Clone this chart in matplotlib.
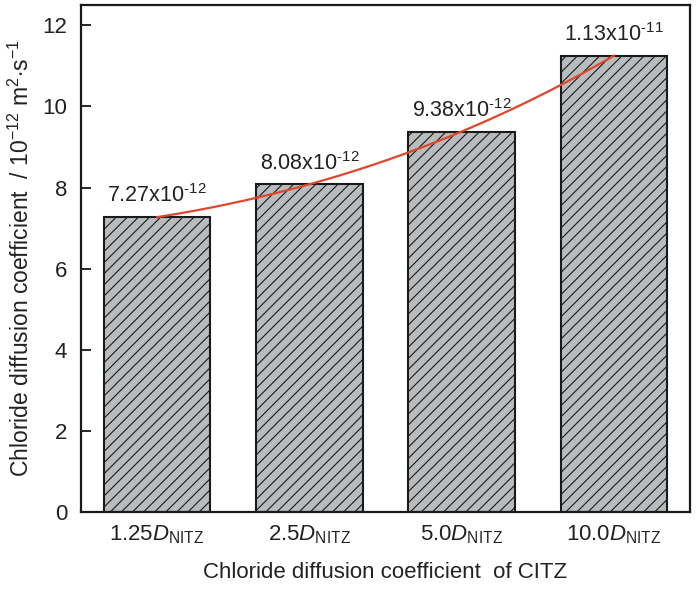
import numpy as np
import matplotlib
matplotlib.use("Agg")
import matplotlib.pyplot as plt

plt.rcParams['font.family'] = ['Liberation Sans', 'DejaVu Sans']
plt.rcParams['mathtext.fontset'] = 'custom'
plt.rcParams['mathtext.rm'] = 'Liberation Sans'
plt.rcParams['mathtext.it'] = 'Liberation Sans:italic'
plt.rcParams['hatch.linewidth'] = 0.8
plt.rcParams['hatch.color'] = '#2e2e2e'

categories = ['1.25', '2.5', '5.0', '10.0']
values = [7.27, 8.08, 9.38, 11.25]
labels = ['7.27x10$^{\u201012}$', '8.08x10$^{\u201012}$', '9.38x10$^{\u201012}$', '1.13x10$^{\u201011}$']
yticks = [0, 2, 4, 6, 8, 10, 12]

TXT = '#222222'
fig = plt.figure(figsize=(7.0, 5.93), dpi=100)
ax = fig.add_axes([81/700, 1 - 512/593, (690-81)/700, (512-5)/593])

x = np.arange(len(categories))
ax.bar(x, values, width=0.70, color='#b9bcbe', edgecolor='#1a1a1a',
       linewidth=1.5, hatch='///', zorder=2)

# smooth trend curve through the bar tops
coef = np.polyfit(x, values, 3)
xs = np.linspace(x[0], x[-1], 200)
ax.plot(xs, np.polyval(coef, xs), color='#e0472a', lw=1.6, zorder=3)

for xi, v, lab in zip(x, values, labels):
    ax.annotate(lab, (xi, v), xytext=(0, 7), textcoords='offset points',
                ha='center', va='bottom', fontsize=15.5, color=TXT)

ax.set_xlim(-0.5, 3.5)
ax.set_ylim(0, 12.5)
ax.set_yticks(yticks)
ax.set_xticks(x)
ax.set_xticklabels([c + r'$\mathit{D}_{\mathrm{NITZ}}$' for c in categories],
                   fontsize=16, color=TXT)
ax.tick_params(axis='y', direction='in', length=7, width=1.2, labelsize=16, pad=10,
               labelcolor=TXT)
ax.tick_params(axis='x', length=0, pad=8)
for s in ax.spines.values():
    s.set_linewidth(1.6)
    s.set_color('#1a1a1a')

ax.set_ylabel('Chloride diffusion coefficient  / 10$^{-12}$ m$^{2}$$\\cdot$s$^{-1}$',
              fontsize=16.5, labelpad=6, color=TXT)
ax.set_xlabel('Chloride diffusion coefficient  of CITZ', fontsize=16, labelpad=12, color=TXT)

fig.savefig('out.png', dpi=100)
